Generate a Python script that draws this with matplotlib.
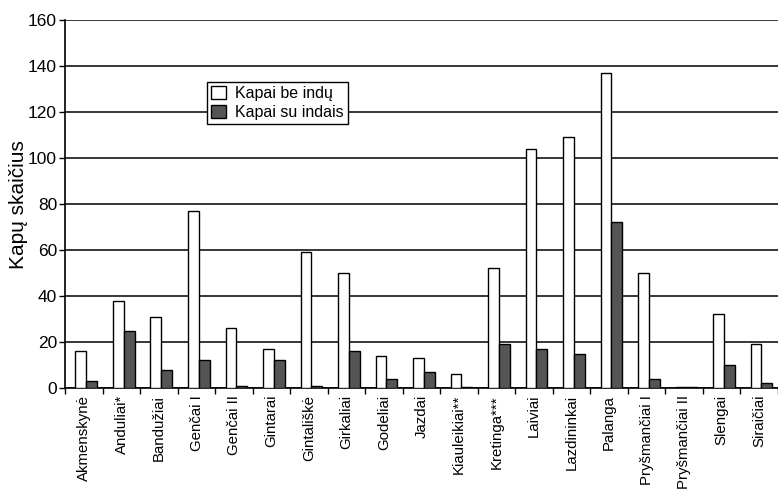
import numpy as np
import matplotlib
matplotlib.use('Agg')
import matplotlib.pyplot as plt

plt.rcParams['font.family'] = ['Liberation Sans', 'DejaVu Sans']

sites = ['Akmenskynė', 'Anduliai*', 'Bandužiai', 'Genčai I', 'Genčai II',
         'Gintarai', 'Gintališkė', 'Girkaliai', 'Godeliai', 'Jazdai',
         'Kiauleikiai**', 'Kretinga***', 'Laiviai', 'Lazdininkai', 'Palanga',
         'Pryšmančiai I', 'Pryšmančiai II', 'Slengai', 'Siraičiai']
be_indu = [16, 38, 31, 77, 26, 17, 59, 50, 14, 13, 6, 52, 104, 109, 137,
           50, 0.5, 32, 19]
su_indais = [3, 25, 8, 12, 1, 12, 1, 16, 4, 7, 0.5, 19, 17, 15, 72,
             4, 0.5, 10, 2]
yticks = [0, 20, 40, 60, 80, 100, 120, 140, 160]

fig = plt.figure(figsize=(7.78, 4.93), dpi=100)
ax = fig.add_axes([0.084, 0.213, 0.916, 0.746])

x = np.arange(len(sites))
w = 0.29
shift = 0.06
ax.bar(x - w / 2 + shift, be_indu, w, color='white', edgecolor='black',
       linewidth=1.0, label='Kapai be indų', zorder=3)
ax.bar(x + w / 2 + shift, su_indais, w, color='#555555', edgecolor='black',
       linewidth=1.0, label='Kapai su indais', zorder=3)

ax.set_xlim(-0.5, len(sites) - 0.5)
ax.set_ylim(0, 160)
ax.set_yticks(yticks)
ax.tick_params(axis='y', labelsize=12.5, direction='out', length=4, width=1,
               pad=2)
ax.set_xticks(x)
ax.set_xticklabels(sites, rotation=90, fontsize=10.8)
ax.tick_params(axis='x', which='major', length=0, pad=5)
ax.set_xticks(np.arange(-0.5, len(sites), 1), minor=True)
ax.tick_params(axis='x', which='minor', direction='out', length=4, width=1)

ax.yaxis.grid(True, color='black', linewidth=1.1, zorder=0)
ax.set_axisbelow(True)
ax.spines['top'].set_visible(False)
ax.spines['right'].set_visible(False)
ax.spines['left'].set_linewidth(1.2)
ax.spines['bottom'].set_linewidth(1.2)

ax.set_ylabel('Kapų skaičius', fontsize=15)
ax.yaxis.set_label_coords(-0.053, 0.5)

leg = ax.legend(loc='upper left', bbox_to_anchor=(0.199, 0.832),
                fontsize=11.5, frameon=True, fancybox=False,
                edgecolor='black', framealpha=1, borderpad=0.25,
                handlelength=0.9, handleheight=0.9, handletextpad=0.6,
                labelspacing=0.25, borderaxespad=0)
leg.get_frame().set_linewidth(1.0)

plt.savefig('out.png', dpi=100)
